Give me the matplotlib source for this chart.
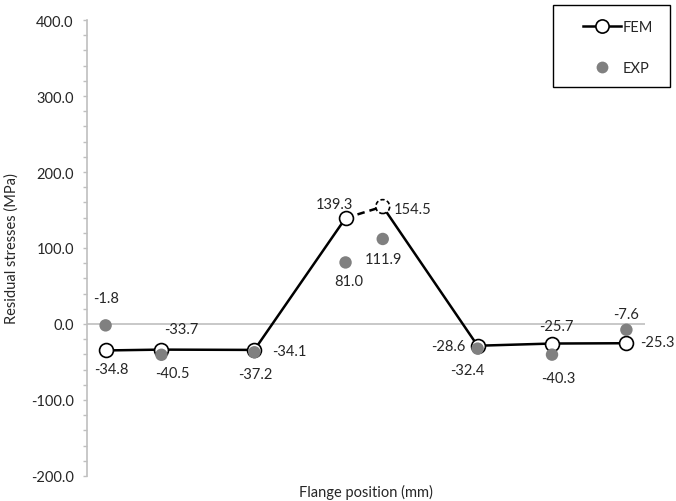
import matplotlib
matplotlib.use("Agg")
import matplotlib.pyplot as plt
from matplotlib.lines import Line2D
from matplotlib.patches import Rectangle
from matplotlib.ticker import MultipleLocator, FuncFormatter

plt.rcParams['font.family'] = ['Lato', 'DejaVu Sans']

# Flange positions (mm) and residual stresses (MPa)
positions = [10, 40, 90, 139, 159, 210, 250, 290]
fem = [-34.8, -33.7, -34.1, 139.3, 154.5, -28.6, -25.7, -25.3]
exp = [-1.8, -40.5, -37.2, 81.0, 111.9, -32.4, -40.3, -7.6]

# label offsets in pixels (dx, dy)
fem_offsets = [(6, -19), (20, 21), (35, -1), (-11, 14), (30, -2), (-29, 0), (4, 18), (31, 1)]
exp_offsets = [(0, 27), (11, -18), (1, -22), (3, -19), (1, -20), (-10, -21), (6, -23), (0, 16)]

FS = 10.5
W, H = 676, 502
fig = plt.figure(figsize=(W / 100, H / 100), dpi=100)
ax = fig.add_axes([87 / W, 1 - 477 / H, (645 - 87) / W, (477 - 21) / H])

ax.set_xlim(0, 300)
ax.set_ylim(-200, 400)

text_color = '#262626'
axis_gray = '#BFBFBF'

# FEM line: solid except the dashed segment between the two peak points
ax.plot(positions[:4], fem[:4], color='black', lw=1.8, zorder=2)
ax.plot(positions[3:5], fem[3:5], color='black', lw=1.8, ls=(0, (3, 2)), zorder=2)
ax.plot(positions[4:], fem[4:], color='black', lw=1.8, zorder=2)

solid_idx = [i for i in range(len(fem)) if i != 4]
ax.scatter([positions[i] for i in solid_idx], [fem[i] for i in solid_idx],
           s=100, facecolor='white', edgecolor='black', linewidths=1.2, zorder=3)
ax.scatter([positions[4]], [fem[4]], s=100, facecolor='white', edgecolor='black',
           linewidths=1.2, linestyles=(0, (2.5, 1.5)), zorder=3)

ax.scatter(positions, exp, s=80, color='#808080', edgecolor='none', zorder=4)

for x, y, (dx, dy) in zip(positions, fem, fem_offsets):
    ax.annotate(f"{y:.1f}", (x, y), xytext=(dx, dy), textcoords='offset pixels',
                ha='center', va='center', fontsize=FS, color=text_color,
                annotation_clip=False)
for x, y, (dx, dy) in zip(positions, exp, exp_offsets):
    ax.annotate(f"{y:.1f}", (x, y), xytext=(dx, dy), textcoords='offset pixels',
                ha='center', va='center', fontsize=FS, color=text_color,
                annotation_clip=False)

# zero line
ax.axhline(0, color=axis_gray, lw=1.2, zorder=1)

for side in ['top', 'right', 'bottom']:
    ax.spines[side].set_visible(False)
ax.spines['left'].set_color(axis_gray)
ax.spines['left'].set_linewidth(1.2)

ax.yaxis.set_major_locator(MultipleLocator(100))
ax.yaxis.set_minor_locator(MultipleLocator(20))
ax.yaxis.set_major_formatter(FuncFormatter(lambda v, p: f"{v:.1f}"))
ax.tick_params(axis='y', which='both', direction='out', color=axis_gray,
               labelcolor=text_color, labelsize=FS, width=1.0, length=3)
ax.tick_params(axis='y', which='major', pad=6.5)
ax.set_xticks([])

fig.text(12 / W, 1 - 249 / H, 'Residual stresses (MPa)', rotation=90,
         ha='center', va='center', fontsize=FS, color=text_color)
fig.text(366 / W, 1 - 492 / H, 'Flange position (mm)',
         ha='center', va='center', fontsize=FS, color=text_color)

# legend box
fig.patches.append(Rectangle((553 / W, 1 - 88 / H), (670 - 553) / W, (88 - 6) / H,
                             transform=fig.transFigure, facecolor='white',
                             edgecolor='black', lw=1.0, zorder=5))
handles = [
    Line2D([], [], color='black', lw=1.8, marker='o', markersize=9.5,
           markerfacecolor='white', markeredgecolor='black', markeredgewidth=1.2),
    Line2D([], [], color='none', marker='o', markersize=8.5,
           markerfacecolor='#808080', markeredgecolor='none'),
]
leg = fig.legend(handles, ['FEM', 'EXP'], loc='upper left',
                 bbox_to_anchor=(583 / W, 1 - 21 / H), frameon=False,
                 fontsize=FS, labelspacing=1.85, handlelength=2.6,
                 handletextpad=0.15, borderpad=0, borderaxespad=0)
leg.set_zorder(6)
for t in leg.get_texts():
    t.set_color(text_color)

fig.savefig('out.png', dpi=100)
